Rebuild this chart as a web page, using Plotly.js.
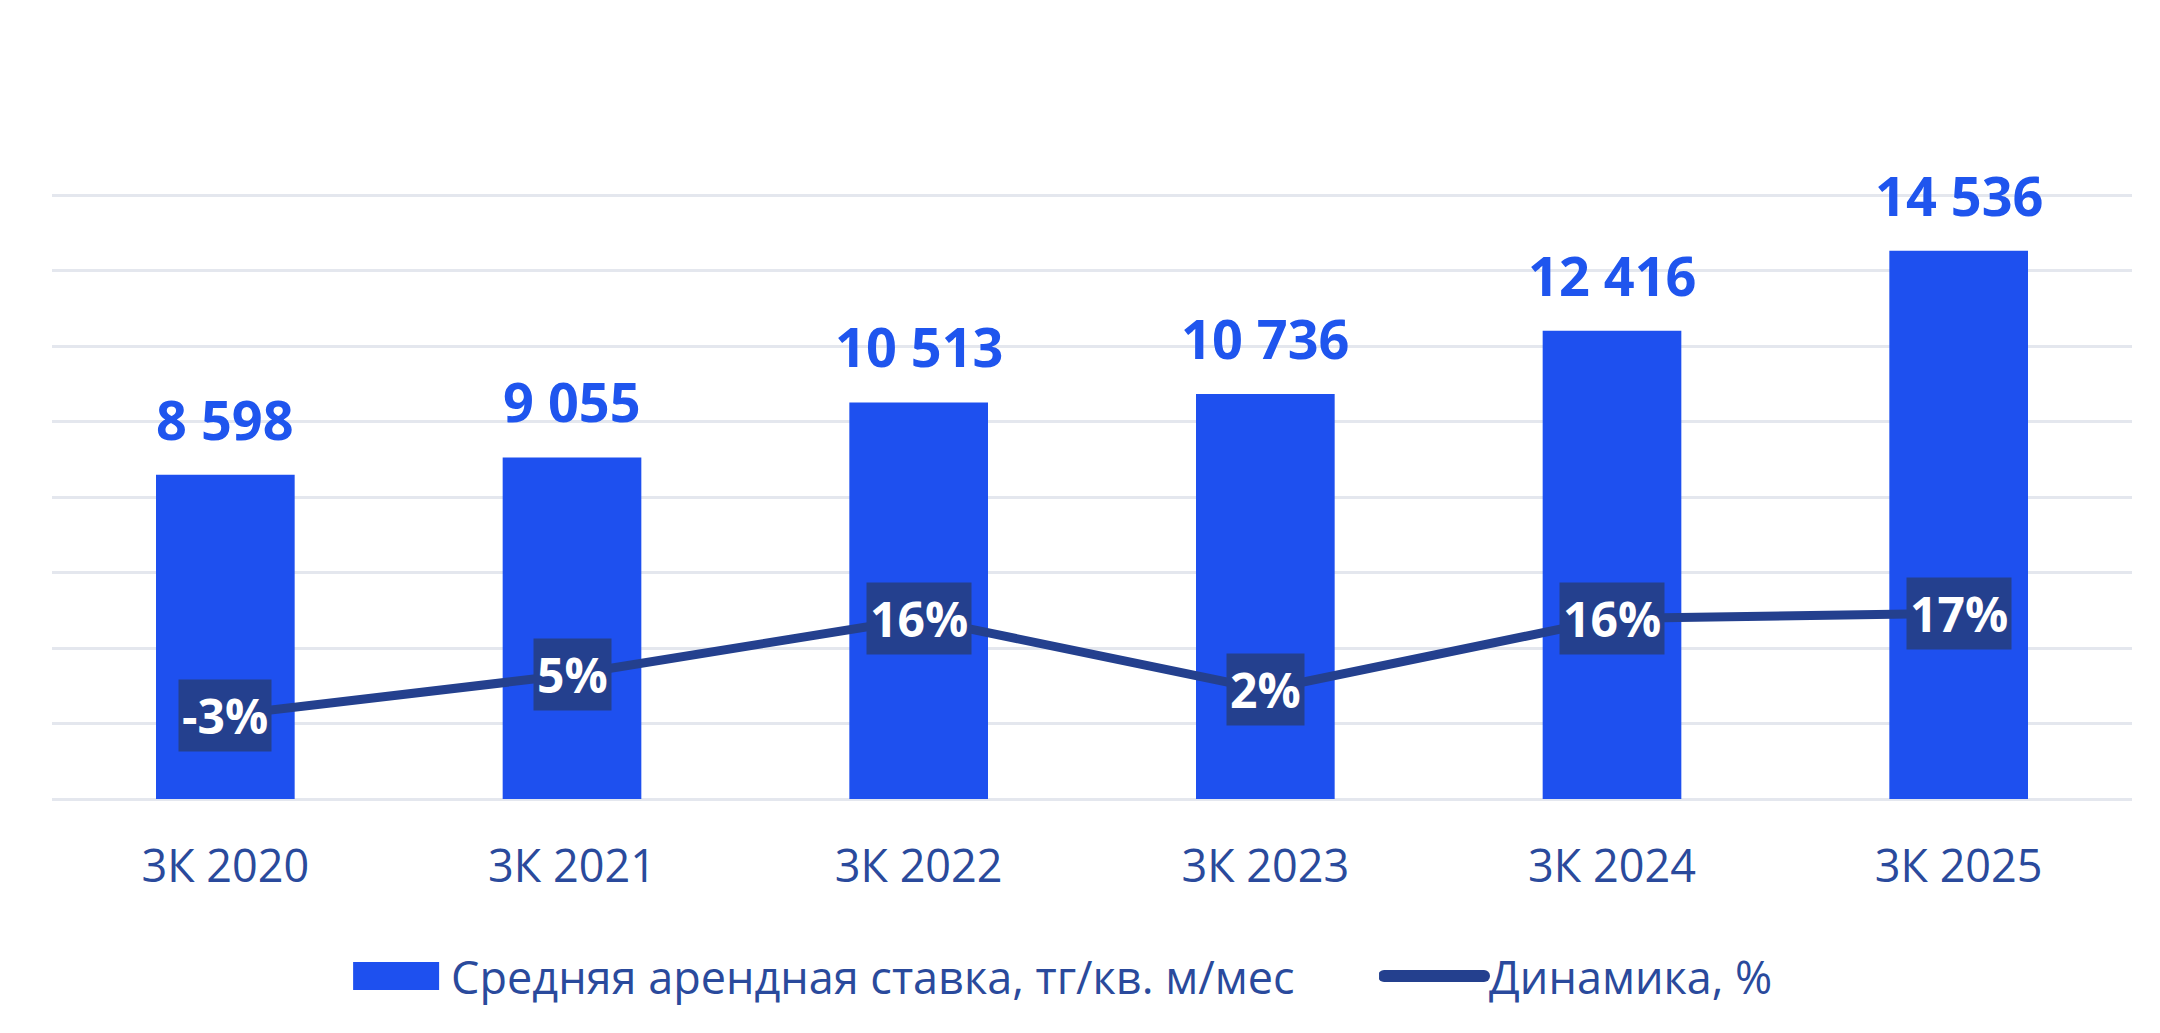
<!DOCTYPE html>
<html>
<head>
<meta charset="utf-8">
<script src="https://cdn.plot.ly/plotly-3.0.1.min.js"></script>
<style>
  html, body { margin: 0; padding: 0; background: #fff; }
  #chart { width: 2160px; height: 1033px; }
</style>
</head>
<body>
<div id="chart"></div>
<script>
var CHART = document.getElementById('chart');

// quarters, avg rent rate (tenge / sq.m / month) and y/y change
var periods = ["3К 2020", "3К 2021", "3К 2022", "3К 2023", "3К 2024", "3К 2025"];
var rates = [8598, 9055, 10513, 10736, 12416, 14536];
var growth = [-3, 5, 16, 2, 16, 17];

var barName = "Средняя арендная ставка, тг/кв. м/мес";
var lineName = "Динамика, %";

var barColor = "#1e50ef";
var lineColor = "#24408e";
var textColor = "#2a4a9c";

function fmt(v) {
  return String(v).replace(/\B(?=(\d{3})+(?!\d))/g, " ");
}

var trace1 = {
  x: periods,
  y: rates,
  type: "bar",
  name: barName,
  width: 0.4,
  marker: { color: barColor },
  hoverinfo: "none",
  legend: "legend"
};

var trace2 = {
  x: periods,
  y: growth,
  yaxis: "y2",
  type: "scatter",
  mode: "lines",
  name: lineName,
  line: { color: lineColor, width: 9 },
  hoverinfo: "none",
  legend: "legend2"
};

var annotations = [];
for (let i = 0; i < periods.length; i++) {
  annotations.push({
    x: periods[i], y: rates[i], xref: "x", yref: "y",
    text: "<b>" + fmt(rates[i]) + "</b>",
    showarrow: false, yanchor: "middle", yshift: 56,
    font: { family: "Open Sans", size: 54, color: "#1f55ee" }
  });
  annotations.push({
    x: periods[i], y: growth[i], xref: "x", yref: "y2",
    text: "<b>" + growth[i] + "%</b>",
    showarrow: false, bgcolor: lineColor, borderpad: 3,
    font: { family: "Open Sans", size: 48, color: "#ffffff" }
  });
}

var legendBase = {
  orientation: "h",
  y: -0.29, yanchor: "middle",
  xanchor: "left",
  itemwidth: 100,
  font: { size: 45, color: textColor }
};

var layout = {
  width: 2160,
  height: 1033,
  margin: { l: 52, r: 28, t: 188, b: 234 },
  paper_bgcolor: "#ffffff",
  plot_bgcolor: "#ffffff",
  font: { family: "Open Sans", color: textColor },
  xaxis: {
    type: "category",
    range: [-0.5, 5.5],
    showgrid: false,
    showline: false,
    ticks: "",
    ticklabelstandoff: 37,
    tickfont: { size: 45, color: textColor }
  },
  yaxis: {
    range: [0, 16200],
    dtick: 2000,
    showticklabels: false,
    gridcolor: "#e4e7ee",
    gridwidth: 3,
    zeroline: true,
    zerolinecolor: "#e4e7ee",
    zerolinewidth: 3
  },
  yaxis2: {
    overlaying: "y",
    side: "right",
    range: [-19.4, 100.4],
    visible: false,
    showgrid: false,
    zeroline: false
  },
  showlegend: true,
  legend: Object.assign({}, legendBase, { x: 0.139 }),
  legend2: Object.assign({}, legendBase, { x: 0.638 }),
  annotations: annotations
};

Plotly.newPlot(CHART, [trace1, trace2], layout, { displayModeBar: false, staticPlot: true }).then(function () {
  // wider swatches in the legend, like the source chart
  let barSym = CHART.querySelector(".legend .legendpoints path");
  if (barSym) barSym.setAttribute("d", "M43,14H-43V-14H43Z");
  CHART.querySelectorAll(".legendlines path").forEach(function (p) {
    p.style.strokeWidth = "12px";
    p.style.strokeLinecap = "round";
  });
});
</script>
</body>
</html>
